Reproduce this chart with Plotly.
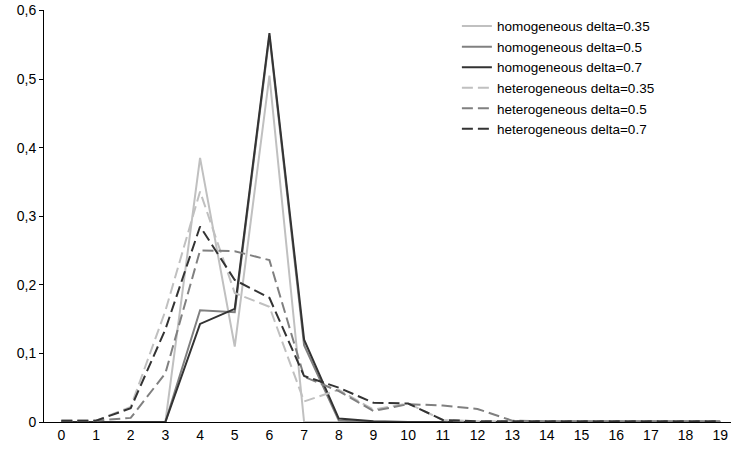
import plotly.graph_objects as go

categories = list(range(20))
hom_035 = [0, 0, 0, 0, 0.385, 0.110, 0.505, 0, 0, 0, 0, 0, 0, 0, 0, 0, 0, 0, 0, 0]
hom_05 = [0, 0, 0, 0, 0.163, 0.160, 0.563, 0.112, 0.002, 0, 0, 0, 0, 0, 0, 0, 0, 0, 0, 0]
hom_07 = [0, 0, 0, 0, 0.143, 0.165, 0.567, 0.120, 0.005, 0.001, 0, 0, 0, 0, 0, 0, 0, 0, 0, 0]
het_035 = [0.002, 0.002, 0.022, 0.162, 0.336, 0.188, 0.168, 0.030, 0.047, 0.018, 0.027, 0.003,
           0.001, 0.001, 0.001, 0.001, 0.001, 0.001, 0.001, 0.001]
het_05 = [0.002, 0.002, 0.006, 0.071, 0.250, 0.249, 0.236, 0.066, 0.045, 0.016, 0.026, 0.024,
          0.019, 0.002, 0.001, 0.001, 0.001, 0.001, 0.001, 0.001]
het_07 = [0.002, 0.002, 0.020, 0.135, 0.285, 0.207, 0.181, 0.067, 0.050, 0.028, 0.027, 0.003,
          0.001, 0.001, 0.001, 0.001, 0.001, 0.001, 0.001, 0.001]

y_tickvals = [0, 0.1, 0.2, 0.3, 0.4, 0.5, 0.6]
y_ticktext = ["0", "0,1", "0,2", "0,3", "0,4", "0,5", "0,6"]

series = [
    ("homogeneous delta=0.35", hom_035, "#c0c0c0", "solid"),
    ("homogeneous delta=0.5", hom_05, "#808080", "solid"),
    ("homogeneous delta=0.7", hom_07, "#333333", "solid"),
    ("heterogeneous delta=0.35", het_035, "#c0c0c0", "11px,5px"),
    ("heterogeneous delta=0.5", het_05, "#808080", "11px,5px"),
    ("heterogeneous delta=0.7", het_07, "#333333", "11px,5px"),
]

fig = go.Figure()
for name, vals, color, dash in series:
    fig.add_trace(go.Scatter(
        x=categories, y=vals, mode="lines", name=name,
        line=dict(color=color, width=2, dash=dash),
    ))

font = dict(family="Liberation Sans, Arial, sans-serif", size=14, color="#000000")

fig.update_layout(
    width=731, height=455,
    margin=dict(l=44, r=0, t=10, b=33),
    paper_bgcolor="white", plot_bgcolor="white",
    font=font,
    showlegend=True,
    legend=dict(
        x=0.601, y=0.998, xanchor="left", yanchor="top",
        bgcolor="rgba(0,0,0,0)",
        font=dict(family="Liberation Sans, Arial, sans-serif", size=13.5, color="#000"),
        tracegroupgap=0,
    ),
)
fig.update_xaxes(
    range=[-0.5, 19.31], tickmode="array", tickvals=categories,
    ticktext=[str(c) for c in categories],
    showgrid=False, zeroline=False, showline=True, linecolor="black", linewidth=1,
    ticks="", layer="below traces",
)
fig.update_yaxes(
    range=[0, 0.6006], tickmode="array", tickvals=y_tickvals, ticktext=y_ticktext,
    showgrid=False, zeroline=False, showline=True, linecolor="black", linewidth=1,
    ticks="outside", ticklen=4, tickcolor="black", layer="below traces",
    ticklabeloverflow="allow",
)

fig.write_html("out.html")
